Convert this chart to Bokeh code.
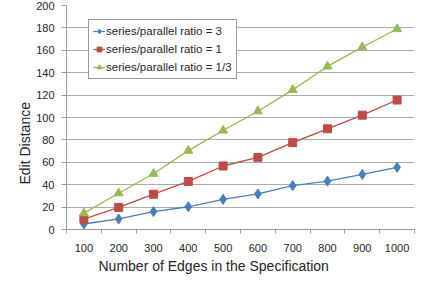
from bokeh.plotting import figure
from bokeh.models import FixedTicker, Legend, LegendItem, Range1d, Title
from bokeh.embed import file_html
from bokeh.resources import INLINE

categories = ["100", "200", "300", "400", "500", "600", "700", "800", "900", "1000"]
ratio_3 = [4.9, 9.4, 16.0, 20.3, 26.9, 31.8, 39.2, 43.2, 49.2, 55.5]
ratio_1 = [9.2, 19.7, 31.5, 42.9, 56.7, 64.4, 77.5, 89.9, 102.1, 115.6]
ratio_13 = [14.6, 32.4, 49.8, 70.4, 88.4, 105.6, 124.7, 145.6, 162.8, 179.0]
y_ticks = [0, 20, 40, 60, 80, 100, 120, 140, 160, 180, 200]
series_names = ["series/parallel ratio = 3", "series/parallel ratio = 1", "series/parallel ratio = 1/3"]
x_title = "Number of Edges in the Specification"
y_title = "Edit Distance"

xs = list(range(1, len(categories) + 1))
FONT = "Liberation Sans"
TEXT = "#262626"

W, H = 417, 275
BL, BR, BT, BB = 66, 3, 5, 46
p = figure(width=W, height=H, output_backend="svg", toolbar_location=None,
           x_range=Range1d(0.5, len(categories) + 0.5), y_range=Range1d(0, 200),
           min_border_left=BL, min_border_right=BR, min_border_top=BT, min_border_bottom=BB)
p.outline_line_color = None
p.background_fill_color = "white"
p.border_fill_color = "white"

# grid
p.xgrid.grid_line_color = None
p.ygrid.ticker = FixedTicker(ticks=y_ticks)
p.ygrid.grid_line_color = "#ababab"
p.ygrid.grid_line_width = 1

# x axis
xa = p.xaxis[0]
xa.ticker = FixedTicker(ticks=xs, minor_ticks=[x - 0.5 for x in xs] + [xs[-1] + 0.5])
xa.major_label_overrides = {x: c for x, c in zip(xs, categories)}
xa.major_tick_line_color = None
xa.major_tick_in = 0
xa.major_tick_out = 4
xa.minor_tick_line_color = "#9a9a9a"
xa.minor_tick_in = 0
xa.minor_tick_out = 4
xa.axis_line_color = "#9a9a9a"
xa.major_label_standoff = 10
xa.major_label_text_font = FONT
xa.major_label_text_font_size = "11px"
xa.major_label_text_color = TEXT

# y axis
ya = p.yaxis[0]
ya.ticker = FixedTicker(ticks=y_ticks)
ya.minor_tick_line_color = None
ya.major_tick_line_color = "#9a9a9a"
ya.major_tick_in = 0
ya.major_tick_out = 5
ya.axis_line_color = "#9a9a9a"
ya.major_label_standoff = 7
ya.major_label_text_font = FONT
ya.major_label_text_font_size = "11px"
ya.major_label_text_color = TEXT

# axis titles, placed like the original (centred on the chart area)
p.add_layout(Title(text=x_title, align="left", offset=32, standoff=2,
                   text_font=FONT, text_font_size="14px", text_font_style="normal",
                   text_color=TEXT), "below")
p.add_layout(Title(text=y_title, align="left", offset=45, standoff=2,
                   text_font=FONT, text_font_size="14px", text_font_style="normal",
                   text_color=TEXT), "left")

colors = ["#4A7EBB", "#BE4B48", "#98B954"]
items = []
for name, vals, col, marker, size in zip(series_names, [ratio_3, ratio_1, ratio_13], colors,
                                         ["diamond", "square", "triangle"], [10, 8, 9]):
    l = p.line(xs, vals, line_color=col, line_width=1.3)
    m = p.scatter(xs, vals, marker=marker, size=size, fill_color=col, line_color=col)
    items.append(LegendItem(label=name, renderers=[l, m]))

legend = Legend(items=items, location=(88 - BL, (H - BB) - 79), border_line_color="#333333",
                border_line_width=1, background_fill_color="white", background_fill_alpha=1.0,
                label_text_font=FONT, label_text_font_size="11.5px", label_text_color=TEXT,
                glyph_width=12, glyph_height=14, label_height=14, spacing=4, padding=4,
                margin=0, label_standoff=1)
p.add_layout(legend, "center")

open("out.html", "w").write(file_html(p, INLINE))
